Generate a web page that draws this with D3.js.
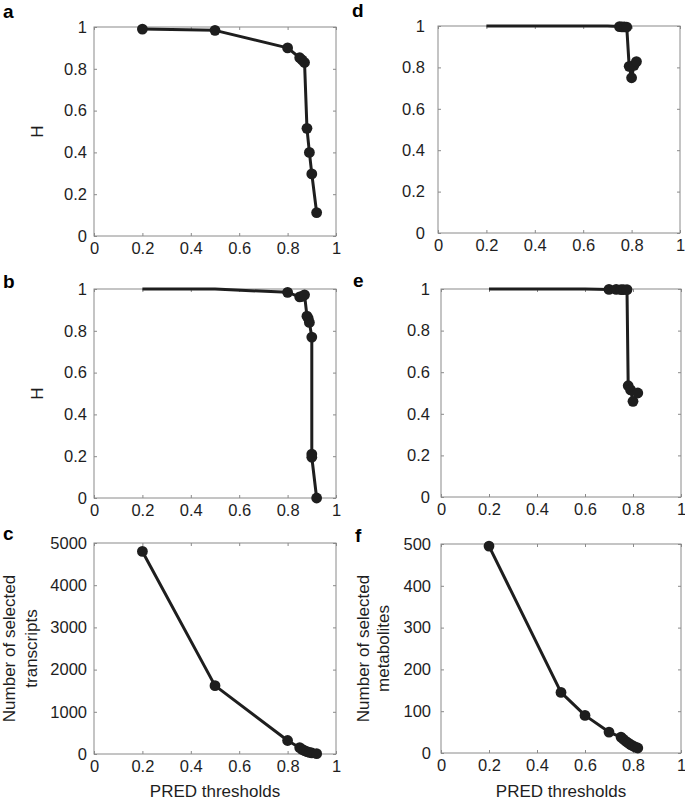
<!DOCTYPE html>
<html>
<head>
<meta charset="utf-8">
<script src="https://cdn.jsdelivr.net/npm/d3@7"></script>
<style>
  html, body { margin: 0; padding: 0; background: #fff; }
  svg { display: block; }
  text { font-family: "Liberation Sans", Arial, Helvetica, sans-serif; }
</style>
</head>
<body>
<svg id="chart" width="685" height="800"></svg>
<script>
// ---------- data ----------
const xTicks = [0, 0.2, 0.4, 0.6, 0.8, 1];
const hTicks = [0, 0.2, 0.4, 0.6, 0.8, 1];
const transcriptTicks = [0, 1000, 2000, 3000, 4000, 5000];
const metaboliteTicks = [0, 100, 200, 300, 400, 500];

const aThresholds = [0.2, 0.5, 0.8, 0.85, 0.86, 0.87, 0.88, 0.89, 0.9, 0.92];
const aH          = [0.99, 0.984, 0.90, 0.853, 0.842, 0.83, 0.515, 0.40, 0.297, 0.112];

const bThresholds = [0.2, 0.5, 0.8, 0.85, 0.86, 0.87, 0.88, 0.885, 0.89, 0.9, 0.9, 0.9, 0.92];
const bH          = [1, 1, 0.984, 0.962, 0.965, 0.972, 0.87, 0.86, 0.84, 0.77, 0.21, 0.195, 0];

const cThresholds = [0.2, 0.5, 0.8, 0.85, 0.86, 0.87, 0.88, 0.89, 0.9, 0.92];
const cTranscripts = [4800, 1620, 320, 150, 110, 80, 55, 40, 25, 8];

const dThresholds = [0.2, 0.5, 0.6, 0.7, 0.75, 0.76, 0.77, 0.78, 0.79, 0.8, 0.81, 0.82];
const dH          = [1, 1, 1, 1, 0.997, 0.996, 0.996, 0.995, 0.805, 0.75, 0.81, 0.828];

const eThresholds = [0.2, 0.5, 0.6, 0.7, 0.73, 0.75, 0.76, 0.775, 0.78, 0.79, 0.8, 0.82];
const eH          = [1, 1, 1, 0.998, 0.998, 0.997, 0.997, 0.997, 0.535, 0.515, 0.46, 0.50];

const fThresholds = [0.2, 0.5, 0.6, 0.7, 0.75, 0.76, 0.77, 0.78, 0.79, 0.8, 0.81, 0.82];
const fMetabolites = [495, 145, 90, 50, 38, 33, 28, 24, 20, 17, 14, 12];

// ---------- layout ----------
const panels = [
  { letter: "a", x: aThresholds, y: aH, yTicks: hTicks, yMax: 1, hideAtMax: true,
    box: [94, 27, 336, 236], pad: 7, letterPos: [3, 18], ylab: ["H"], ylabX: [43], xlab: false },
  { letter: "b", x: bThresholds, y: bH, yTicks: hTicks, yMax: 1, hideAtMax: true,
    box: [94, 289, 336, 498], pad: 7, letterPos: [3, 288], ylab: ["H"], ylabX: [43], xlab: false },
  { letter: "c", x: cThresholds, y: cTranscripts, yTicks: transcriptTicks, yMax: 5000, hideAtMax: false,
    box: [94, 543, 336, 754], pad: 7, letterPos: [3, 540], ylab: ["Number of selected", "transcripts"], ylabX: [15, 37], xlab: true },
  { letter: "d", x: dThresholds, y: dH, yTicks: hTicks, yMax: 1, hideAtMax: true,
    box: [438, 26, 680, 233], pad: 13, letterPos: [352, 17], ylab: [], ylabX: [], xlab: false },
  { letter: "e", x: eThresholds, y: eH, yTicks: hTicks, yMax: 1, hideAtMax: true,
    box: [441, 289, 681, 497], pad: 11, letterPos: [353, 287], ylab: [], ylabX: [], xlab: false },
  { letter: "f", x: fThresholds, y: fMetabolites, yTicks: metaboliteTicks, yMax: 500, hideAtMax: false,
    box: [441, 544, 681, 753], pad: 10, letterPos: [355, 542], ylab: ["Number of selected", "metabolites"], ylabX: [369, 389], xlab: true }
];

const svg = d3.select("#chart");
const fmt = d3.format("~g");
const boxColor = "#8a8a8a";
const ink = "#1e1e1e";
const tickFont = 16.5;

panels.forEach(p => {
  const [x0, y0, x1, y1] = p.box;
  const xs = d3.scaleLinear().domain([0, 1]).range([x0, x1]);
  const ys = d3.scaleLinear().domain([0, p.yMax]).range([y1, y0]);

  const g = svg.append("g");

  g.append("rect").attr("x", x0).attr("y", y0).attr("width", x1 - x0).attr("height", y1 - y0)
    .attr("fill", "none").attr("stroke", boxColor).attr("stroke-width", 1);

  const styleAxis = sel => {
    sel.select(".domain").remove();
    sel.selectAll(".tick line").attr("stroke", boxColor);
    sel.selectAll(".tick text").attr("fill", ink).attr("font-size", tickFont)
      .attr("font-family", "\"Liberation Sans\", Arial, Helvetica, sans-serif");
  };

  g.append("g").attr("transform", `translate(${x0},0)`)
    .call(d3.axisLeft(ys).tickValues(p.yTicks).tickFormat(fmt).tickSizeInner(-3).tickSizeOuter(0).tickPadding(p.pad))
    .call(styleAxis);
  g.append("g").attr("transform", `translate(${x1},0)`)
    .call(d3.axisRight(ys).tickValues(p.yTicks).tickFormat("").tickSizeInner(-3).tickSizeOuter(0))
    .call(styleAxis);
  g.append("g").attr("transform", `translate(0,${y1})`)
    .call(d3.axisBottom(xs).tickValues(xTicks).tickFormat(fmt).tickSizeInner(-3).tickSizeOuter(0).tickPadding(6))
    .call(styleAxis)
    .selectAll(".tick text").attr("dy", "0.75em");
  g.append("g").attr("transform", `translate(0,${y0})`)
    .call(d3.axisTop(xs).tickValues(xTicks).tickFormat("").tickSizeInner(-3).tickSizeOuter(0))
    .call(styleAxis);

  const pts = p.x.map((t, i) => [t, p.y[i]]);

  g.append("path").datum(pts)
    .attr("fill", "none").attr("stroke", ink).attr("stroke-width", 3).attr("stroke-linejoin", "round")
    .attr("d", d3.line().x(d => xs(d[0])).y(d => ys(d[1])));

  g.selectAll("circle.m").data(pts.filter(d => !(p.hideAtMax && d[1] >= p.yMax)))
    .join("circle").attr("class", "m")
    .attr("cx", d => xs(d[0])).attr("cy", d => ys(d[1])).attr("r", 5.4)
    .attr("fill", ink);

  svg.append("text").attr("x", p.letterPos[0]).attr("y", p.letterPos[1])
    .attr("font-size", 19).attr("font-weight", "bold").attr("fill", "#000").text(p.letter);

  const cy = (y0 + y1) / 2;
  p.ylab.forEach((s, i) => {
    svg.append("text").attr("transform", `translate(${p.ylabX[i]},${cy}) rotate(-90)`)
      .attr("text-anchor", "middle").attr("font-size", 17).attr("fill", ink).text(s);
  });

  if (p.xlab) {
    svg.append("text").attr("x", (x0 + x1) / 2).attr("y", 797)
      .attr("text-anchor", "middle").attr("font-size", 17).attr("fill", ink).text("PRED thresholds");
  }
});
</script>
</body>
</html>
